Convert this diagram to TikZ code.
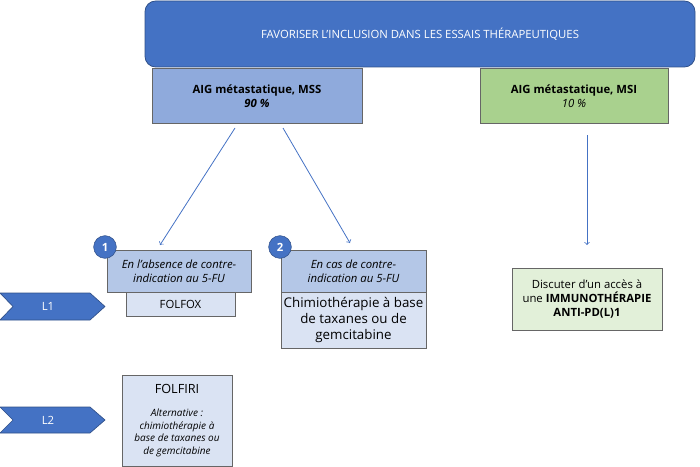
\documentclass[tikz,border=0pt]{standalone}
\usepackage{fontspec}
\setmainfont{Open Sans}
\usetikzlibrary{positioning}
\definecolor{bandblue}{HTML}{4472C4}
\definecolor{mssblue}{HTML}{8FAADC}
\definecolor{headblue}{HTML}{B4C7E7}
\definecolor{bodyblue}{HTML}{DAE3F3}
\definecolor{msigreen}{HTML}{A9D18E}
\definecolor{palegreen}{HTML}{E2F0D9}
\tikzset{
    box/.style={draw=gray!80!black,line width=0.6pt,align=center,inner sep=2pt,font=\fontsize{8.5}{10.5}\selectfont},
    badge/.style={circle,fill=bandblue,draw=bandblue!70!black,text=white,font=\bfseries\fontsize{8.5}{10}\selectfont,minimum size=17pt,inner sep=0pt},
    arrowline/.style={->,bandblue,line width=0.6pt},
    chevron/.style={fill=bandblue,draw=bandblue!70!black,line width=0.5pt}
}
\newcommand\Chevron[3]{%
    \draw[chevron] (0,#1) -- (90,#1) -- (105,{(#1+#2)/2}) -- (90,#2) -- (0,#2) -- (13,{(#1+#2)/2}) -- cycle;
    \node[text=white,font=\fontsize{8.5}{10}\selectfont] at (48,{(#1+#2)/2}) {#3};
}
\begin{document}
\begin{tikzpicture}[x=0.75pt,y=-0.75pt]
    \useasboundingbox (0,0) rectangle (700,467);
    % haut
    \node[box,fill=bandblue,draw=bandblue!70!black,rounded corners=8pt,text=white,minimum width=550*0.75pt,minimum height=66*0.75pt] (incl) at (420,34) {FAVORISER L’INCLUSION DANS LES ESSAIS THÉRAPEUTIQUES};
    \node[box,fill=mssblue,minimum width=210*0.75pt,minimum height=55*0.75pt] (mss) at (257,96) {\textbf{AIG métastatique, MSS}\\\textbf{\textit{90 \%}}};
    \node[box,fill=msigreen,minimum width=188*0.75pt,minimum height=55*0.75pt] (msi) at (574,96) {\textbf{AIG métastatique, MSI}\\\textit{10 \%}};
    % L1
    \node[box,fill=headblue,minimum width=144*0.75pt,minimum height=42*0.75pt] (abs) at (179,271) {\textit{En l’absence de contre-}\\\textit{indication au 5-FU}};
    \node[box,fill=bodyblue,minimum width=109*0.75pt,minimum height=24*0.75pt] (folfox) at (180.5,304) {FOLFOX};
    \node[box,fill=headblue,minimum width=145*0.75pt,minimum height=42*0.75pt] (cas) at (353.5,271) {\textit{En cas de contre-}\\\textit{indication au 5-FU}};
    \node[box,fill=bodyblue,minimum width=145*0.75pt,minimum height=56*0.75pt,font=\fontsize{10}{12}\selectfont] (chimio) at (353.5,320) {Chimiothérapie à base\\de taxanes ou de\\gemcitabine};
    \node[badge] (one) at (105,247) {1};
    \node[badge] (two) at (280,247) {2};
    \node[box,fill=palegreen,minimum width=150*0.75pt,minimum height=62*0.75pt] (immuno) at (587,299) {Discuter d’un accès à\\une \textbf{IMMUNOTHÉRAPIE}\\\textbf{ANTI-PD(L)1}};
    % L2
    \node[box,fill=bodyblue,minimum width=110*0.75pt,minimum height=91*0.75pt,font=\fontsize{7.5}{9.5}\selectfont] (folfiri) at (177,420.5) {{\fontsize{9.5}{11}\selectfont FOLFIRI}\\[8pt]\textit{Alternative :}\\\textit{chimiothérapie à}\\\textit{base de taxanes ou}\\\textit{de gemcitabine}};
    \Chevron{293}{320}{L1}
    \Chevron{407}{433}{L2}
    % fleches
    \coordinate (mssL) at (235,128);
    \coordinate (mssR) at (283,128);
    \coordinate (msiB) at (587,135);
    \draw[arrowline] (mssL) -- (160,245);
    \draw[arrowline] (mssR) -- (350,243);
    \draw[arrowline] (msiB) -- (immuno.north |- 0,245);
\end{tikzpicture}
\end{document}
